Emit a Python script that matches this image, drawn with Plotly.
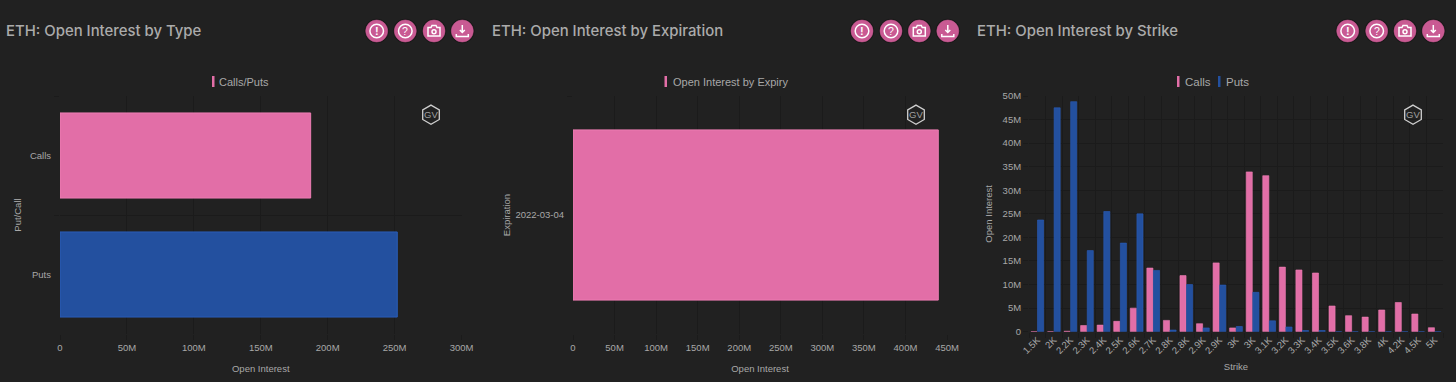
import plotly.graph_objects as go

W, H = 1456, 382
BG = "#212121"
GRID = "#1b1b1b"
TXT = "#a8a8a8"
PINK = "#E26EA7"
PINK_EDGE = "#EE7DB4"
BLUE = "#23509F"
BLUE_EDGE = "#2A5DB8"
ICON = "#C95A93"

type_categories = ["Puts", "Calls"]
type_values = [252e6, 187.3e6]
type_colors = [BLUE, PINK]
type_edges = [BLUE_EDGE, PINK_EDGE]

expiry_categories = ["2022-03-04"]
expiry_values = [439.5e6]

strike_values = ["1500", "2000", "2200", "2300", "2400", "2500", "2600", "2700", "2750", "2800", "2850", "2900",
                 "2950", "3000", "3100", "3200", "3300", "3400", "3500", "3600", "3800", "4000", "4200", "4500", "5000"]
strike_labels = ["1.5K", "2K", "2.2K", "2.3K", "2.4K", "2.5K", "2.6K", "2.7K", "2.8K", "2.8K", "2.9K", "2.9K",
                 "3K", "3K", "3.1K", "3.2K", "3.3K", "3.4K", "3.5K", "3.6K", "3.8K", "4K", "4.2K", "4.5K", "5K"]
calls_oi = [0, 0, 0.1e6, 1.3e6, 1.4e6, 2.2e6, 5.0e6, 13.5e6, 2.4e6, 11.9e6, 1.7e6, 14.6e6,
            0.8e6, 33.9e6, 33.1e6, 13.7e6, 13.1e6, 12.45e6, 5.45e6, 3.4e6, 3.1e6, 4.6e6, 6.2e6, 3.75e6, 0.85e6]
puts_oi = [23.7e6, 47.5e6, 48.8e6, 17.2e6, 25.5e6, 18.8e6, 25.0e6, 13.0e6, 0.35e6, 10.0e6, 0.8e6, 9.9e6,
           1.1e6, 8.35e6, 2.3e6, 1.0e6, 0.25e6, 0.25e6, 0, 0, 0, 0, 0, 0, 0]

titles = ["ETH: Open Interest by Type", "ETH: Open Interest by Expiration", "ETH: Open Interest by Strike"]
title_x = [4, 489.5, 975]
icon_x = [[376.7, 405.3, 434, 462.3], [862, 891, 919.3, 947.8], [1347.7, 1376.7, 1405, 1433.3]]
logo_x = [431, 916, 1413]


def px(x):
    return x / W


def py(y):
    return 1 - y / H


fig = go.Figure()
fig.add_trace(go.Bar(y=type_categories, x=type_values, orientation="h", width=0.715, name="Calls/Puts",
                     marker=dict(color=type_colors, line=dict(color=type_edges, width=1)),
                     xaxis="x", yaxis="y", showlegend=False))
fig.add_trace(go.Bar(y=expiry_categories, x=expiry_values, orientation="h", width=0.715, name="Open Interest by Expiry",
                     marker=dict(color=PINK, line=dict(color=PINK_EDGE, width=1)),
                     xaxis="x2", yaxis="y2", showlegend=False))
fig.add_trace(go.Bar(x=strike_values, y=calls_oi, name="Calls",
                     marker=dict(color=PINK, line=dict(color=PINK_EDGE, width=0.6)),
                     xaxis="x3", yaxis="y3", showlegend=False))
fig.add_trace(go.Bar(x=strike_values, y=puts_oi, name="Puts",
                     marker=dict(color=BLUE, line=dict(color=BLUE_EDGE, width=0.6)),
                     xaxis="x3", yaxis="y3", showlegend=False))

font = dict(family="Liberation Sans, Arial, sans-serif", size=9.5, color=TXT)
common = dict(showgrid=True, gridcolor=GRID, gridwidth=1, zeroline=False, showline=False, ticks="outside",
              ticklen=5, tickcolor=GRID, tickfont=font, automargin=False)


def ax_title(text, standoff):
    return dict(text=text, font=font, standoff=standoff)


fig.update_layout(
    width=W, height=H, margin=dict(l=0, r=0, t=0, b=0), paper_bgcolor=BG, plot_bgcolor=BG,
    barmode="group", bargap=0.2, bargroupgap=0.08, showlegend=False, font=font,
    xaxis=dict(domain=[px(60), px(461.5)], anchor="y", range=[0, 300e6], dtick=50e6, tickformat="~s",
               title=ax_title("Open Interest", 12), **common),
    yaxis=dict(domain=[py(334), py(96)], anchor="x", type="category", categoryorder="array",
               categoryarray=type_categories, range=[-0.5, 1.5], tickson="boundaries", ticklabelstandoff=8,
               title=ax_title("Put/Call", 6), **common),
    xaxis2=dict(domain=[px(573), px(947)], anchor="y2", range=[0, 450e6], dtick=50e6, tickformat="~s",
                title=ax_title("Open Interest", 12), **common),
    yaxis2=dict(domain=[py(334), py(96)], anchor="x2", type="category", range=[-0.5, 0.5], tickson="boundaries",
                ticklabelstandoff=8, title=ax_title("Expiration", 3), **common),
    xaxis3=dict(domain=[px(1029), px(1443)], anchor="y3", type="category", categoryorder="array",
                categoryarray=strike_values, tickmode="array", tickvals=strike_values, ticktext=strike_labels,
                tickangle=-45, tickson="boundaries", title=ax_title("Strike", 8), **common),
    yaxis3=dict(domain=[py(331.7), py(96)], anchor="x3", range=[0, 50e6], dtick=5e6, tickformat="~s",
                title=ax_title("Open Interest", 8), **common),
)

shapes = []
annos = []


def text(x, y, s, size=10, color=TXT, family="Liberation Sans, Arial, sans-serif", xanchor="center", weight=None):
    f = dict(size=size, color=color, family=family)
    if weight:
        f["weight"] = weight
    annos.append(dict(x=px(x), y=py(y), xref="paper", yref="paper", text=s, showarrow=False, xanchor=xanchor,
                      yanchor="middle", font=f))


def path(d, line="#ffffff", width=1.5, fill=None):
    shapes.append(dict(type="path", path=d, xref="paper", yref="paper", line=dict(color=line, width=width),
                       fillcolor=fill or "rgba(0,0,0,0)", layer="above"))


def P(x, y):
    return f"{px(x):.6f},{py(y):.6f}"


def circle(cx, cy, r, fill=None, line="#ffffff", width=1.5):
    shapes.append(dict(type="circle", xref="paper", yref="paper", x0=px(cx - r), x1=px(cx + r), y0=py(cy + r),
                       y1=py(cy - r), fillcolor=fill or "rgba(0,0,0,0)",
                       line=dict(color=line, width=width), layer="above"))


def rect(x0, y0, x1, y1, fill):
    shapes.append(dict(type="rect", xref="paper", yref="paper", x0=px(x0), x1=px(x1), y0=py(y1), y1=py(y0),
                       fillcolor=fill, line=dict(width=0), layer="above"))


for i in range(3):
    text(title_x[i], 31, titles[i], size=14.9, family="Inter, Liberation Sans, sans-serif", xanchor="left",
         color="#ababab", weight=500)
    cy = 31
    xs = icon_x[i]
    for x in xs:
        circle(x, cy, 12, fill="#191919", line="#191919", width=0.5)
        circle(x, cy, 11, fill=ICON, line=ICON, width=0.5)
    circle(xs[0], cy, 6.8)
    text(xs[0], cy, "!", size=11, color="#ffffff", weight=700)
    circle(xs[1], cy, 6.8)
    text(xs[1], cy, "?", size=10.5, color="#ffffff")
    x = xs[2]
    path("M" + P(x - 6, cy - 3.5) + " L" + P(x - 3, cy - 3.5) + " L" + P(x - 2, cy - 5.5) + " L" + P(x + 2, cy - 5.5)
         + " L" + P(x + 3, cy - 3.5) + " L" + P(x + 6, cy - 3.5) + " L" + P(x + 6, cy + 5) + " L" + P(x - 6, cy + 5) + " Z")
    circle(x, cy + 0.8, 2)
    x = xs[3]
    path("M" + P(x, cy - 6) + " L" + P(x, cy + 1.5) + " M" + P(x - 2.5, cy - 1) + " L" + P(x, cy + 1.5) + " L" + P(x + 2.5, cy - 1))
    path("M" + P(x - 6, cy + 3) + " L" + P(x - 6, cy + 5.5) + " L" + P(x + 6, cy + 5.5) + " L" + P(x + 6, cy + 3))
    # watermark
    x, y = logo_x[i], 114.7
    r, q = 9.6, 8.3
    path("M" + P(x, y - r) + " L" + P(x + q, y - r / 2) + " L" + P(x + q, y + r / 2) + " L" + P(x, y + r)
         + " L" + P(x - q, y + r / 2) + " L" + P(x - q, y - r / 2) + " Z", line="#cfcfcf", width=1.3)
    text(x, y, "GV", size=9.5, color="#a0a0a0")

# legends
rect(212, 76, 214.5, 87, PINK)
text(217, 81.5, "Calls/Puts", size=11, xanchor="left")
rect(664.5, 76, 667, 87, PINK)
text(671, 81.5, "Open Interest by Expiry", size=11, xanchor="left")
rect(1177, 76, 1179.5, 87, PINK)
text(1183, 81.5, "Calls", size=11.5, xanchor="left")
rect(1218, 76, 1220.5, 87, BLUE)
text(1224, 81.5, "Puts", size=11.5, xanchor="left")

fig.update_layout(shapes=shapes, annotations=annos)
fig.write_html("out.html", config={"displayModeBar": False},
               post_script="document.body.style.margin='0';document.body.style.background='#212121';document.body.style.overflow='hidden';")
